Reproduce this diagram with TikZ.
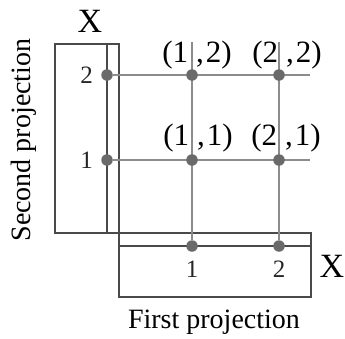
\documentclass[tikz,border=0pt]{standalone}
\usepackage{fontspec}
\setmainfont{Liberation Serif}
\usetikzlibrary{positioning}
\definecolor{FrameGray}{HTML}{4A4A4A}
\definecolor{DotGray}{HTML}{6A6A6A}
\definecolor{GridGray}{HTML}{8C8C8C}
\tikzset{
  frame/.style={draw=FrameGray,line width=2.4pt},
  axisline/.style={draw=FrameGray,line width=2.4pt},
  gridline/.style={draw=GridGray,line width=1.1pt},
  dot/.style={circle,fill=DotGray,inner sep=0pt,minimum size=11.5pt},
  coordlabel/.style={font=\fontsize{31}{33}\selectfont,inner sep=0pt},
  ticklabel/.style={font=\fontsize{25}{27}\selectfont,inner sep=0pt,text=black!85},
  setlabel/.style={font=\fontsize{34}{36}\selectfont,inner sep=0pt},
  projlabel/.style={font=\fontsize{28}{30}\selectfont,inner sep=0pt}
}
\begin{document}
\begin{tikzpicture}[x=1pt,y=-1pt]
  \useasboundingbox (0,0) rectangle (345,338);
  % the two boxes
  \draw[frame] (55,44) rectangle (119,233);
  \draw[frame] (119,233) rectangle (311,297);
  % axis lines inside the boxes
  \coordinate (vtop) at (107,44);
  \coordinate (vbot) at (107,233);
  \coordinate (hleft) at (119,246);
  \coordinate (hright) at (311,246);
  \draw[axisline] (vtop) -- (vbot);
  \draw[axisline] (hleft) -- (hright);
  % free ends of the grid lines
  \coordinate (e2) at (310,75);
  \coordinate (e1) at (310,160);
  \coordinate (t1) at (192,42);
  \coordinate (t2) at (279,42);
  % dots
  \node[dot] (s2) at (107,75) {};
  \node[dot] (s1) at (107,160) {};
  \node[dot] (f1) at (192,246) {};
  \node[dot] (f2) at (279,246) {};
  \draw[gridline] (s2) -- (e2);
  \draw[gridline] (s1) -- (e1);
  \draw[gridline] (f1) -- (t1);
  \draw[gridline] (f2) -- (t2);
  \node[dot] (g12) at (192,75) {};
  \node[dot] (g22) at (279,75) {};
  \node[dot] (g11) at (192,160) {};
  \node[dot] (g21) at (279,160) {};
  % labels
  \node[ticklabel,left=8pt of s2] (l2) {2};
  \node[ticklabel,left=8pt of s1] (l1) {1};
  \node[ticklabel,below=9pt of f1] (b1) {1};
  \node[ticklabel,below=9pt of f2] (b2) {2};
  \node[coordlabel] (c12) at (197,55) {(1\kern8pt,\kern2pt2)};
  \node[coordlabel] (c22) at (287,55) {(2\kern8pt,\kern2pt2)};
  \node[coordlabel] (c11) at (198,138) {(1\kern8pt,\kern2pt1)};
  \node[coordlabel] (c21) at (286,138) {(2\kern8pt,\kern2pt1)};
  \node[setlabel] (xtop) at (90,21) {X};
  \node[setlabel] (xright) at (332,266) {X};
  \node[projlabel] (pfirst) at (214,322) {First projection};
  \node[projlabel,rotate=90] (psecond) at (24,140) {Second projection};
\end{tikzpicture}
\end{document}
